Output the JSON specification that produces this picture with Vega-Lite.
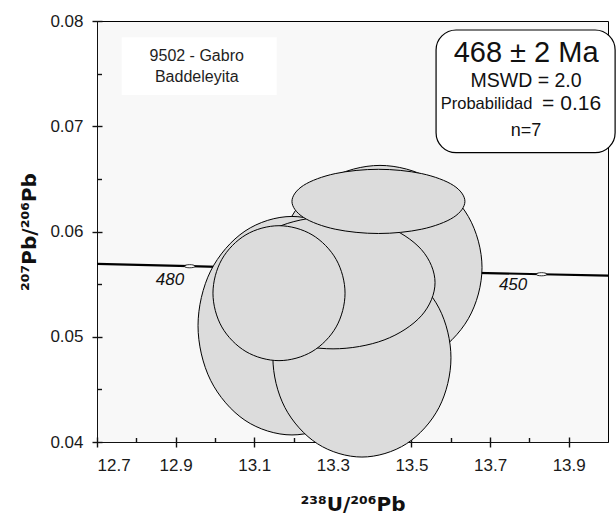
{
  "$schema": "https://vega.github.io/schema/vega-lite/v6.json",
  "width": 511,
  "height": 421,
  "autosize": {"type": "none"},
  "padding": {"left": 97, "top": 21, "right": 8, "bottom": 73},
  "background": "white",
  "config": {
    "view": {"stroke": "black", "strokeWidth": 1, "fill": "#f8f8f8"},
    "font": "Liberation Sans"
  },
  "resolve": {"axis": {"x": "independent", "y": "independent"}},
  "datasets": {
    "ellipses": [
      {"id":1,"k":0,"x":13.57,"y":0.0556},{"id":1,"k":1,"x":13.55,"y":0.05835},{"id":1,"k":2,"x":13.495,"y":0.06036},{"id":1,"k":3,"x":13.42,"y":0.0611},{"id":1,"k":4,"x":13.345,"y":0.06036},{"id":1,"k":5,"x":13.29,"y":0.05835},{"id":1,"k":6,"x":13.27,"y":0.0556},{"id":1,"k":7,"x":13.29,"y":0.05285},{"id":1,"k":8,"x":13.345,"y":0.05084},{"id":1,"k":9,"x":13.42,"y":0.0501},{"id":1,"k":10,"x":13.495,"y":0.05084},{"id":1,"k":11,"x":13.55,"y":0.05285},
      {"id":2,"k":0,"x":13.6795,"y":0.05657},{"id":2,"k":1,"x":13.6447,"y":0.061425},{"id":2,"k":2,"x":13.5498,"y":0.064979},{"id":2,"k":3,"x":13.42,"y":0.06628},{"id":2,"k":4,"x":13.2902,"y":0.064979},{"id":2,"k":5,"x":13.1953,"y":0.061425},{"id":2,"k":6,"x":13.1605,"y":0.05657},{"id":2,"k":7,"x":13.1953,"y":0.051715},{"id":2,"k":8,"x":13.2902,"y":0.048161},{"id":2,"k":9,"x":13.42,"y":0.04686},{"id":2,"k":10,"x":13.5498,"y":0.048161},{"id":2,"k":11,"x":13.6447,"y":0.051715},
      {"id":3,"k":0,"x":13.435,"y":0.05105},{"id":3,"k":1,"x":13.403,"y":0.05624},{"id":3,"k":2,"x":13.3155,"y":0.060039},{"id":3,"k":3,"x":13.196,"y":0.06143},{"id":3,"k":4,"x":13.0765,"y":0.060039},{"id":3,"k":5,"x":12.989,"y":0.05624},{"id":3,"k":6,"x":12.957,"y":0.05105},{"id":3,"k":7,"x":12.989,"y":0.04586},{"id":3,"k":8,"x":13.0765,"y":0.042061},{"id":3,"k":9,"x":13.196,"y":0.04067},{"id":3,"k":10,"x":13.3155,"y":0.042061},{"id":3,"k":11,"x":13.403,"y":0.04586},
      {"id":4,"k":0,"x":13.6005,"y":0.048},{"id":4,"k":1,"x":13.5702,"y":0.052715},{"id":4,"k":2,"x":13.4873,"y":0.056166},{"id":4,"k":3,"x":13.374,"y":0.05743},{"id":4,"k":4,"x":13.2608,"y":0.056166},{"id":4,"k":5,"x":13.1779,"y":0.052715},{"id":4,"k":6,"x":13.1475,"y":0.048},{"id":4,"k":7,"x":13.1779,"y":0.043285},{"id":4,"k":8,"x":13.2608,"y":0.039834},{"id":4,"k":9,"x":13.374,"y":0.03857},{"id":4,"k":10,"x":13.4873,"y":0.039834},{"id":4,"k":11,"x":13.5702,"y":0.043285},
      {"id":5,"k":0,"x":13.56,"y":0.05514},{"id":5,"k":1,"x":13.5252,"y":0.058285},{"id":5,"k":2,"x":13.4303,"y":0.060587},{"id":5,"k":3,"x":13.3005,"y":0.06143},{"id":5,"k":4,"x":13.1708,"y":0.060587},{"id":5,"k":5,"x":13.0758,"y":0.058285},{"id":5,"k":6,"x":13.041,"y":0.05514},{"id":5,"k":7,"x":13.0758,"y":0.051995},{"id":5,"k":8,"x":13.1708,"y":0.049693},{"id":5,"k":9,"x":13.3005,"y":0.04885},{"id":5,"k":10,"x":13.4303,"y":0.049693},{"id":5,"k":11,"x":13.5252,"y":0.051995},
      {"id":6,"k":0,"x":13.636,"y":0.06286},{"id":6,"k":1,"x":13.6065,"y":0.064385},{"id":6,"k":2,"x":13.526,"y":0.065501},{"id":6,"k":3,"x":13.416,"y":0.06591},{"id":6,"k":4,"x":13.306,"y":0.065501},{"id":6,"k":5,"x":13.2255,"y":0.064385},{"id":6,"k":6,"x":13.196,"y":0.06286},{"id":6,"k":7,"x":13.2255,"y":0.061335},{"id":6,"k":8,"x":13.306,"y":0.060219},{"id":6,"k":9,"x":13.416,"y":0.05981},{"id":6,"k":10,"x":13.526,"y":0.060219},{"id":6,"k":11,"x":13.6065,"y":0.061335},
      {"id":7,"k":0,"x":13.331,"y":0.05414},{"id":7,"k":1,"x":13.3085,"y":0.057345},{"id":7,"k":2,"x":13.247,"y":0.059691},{"id":7,"k":3,"x":13.163,"y":0.06055},{"id":7,"k":4,"x":13.079,"y":0.059691},{"id":7,"k":5,"x":13.0175,"y":0.057345},{"id":7,"k":6,"x":12.995,"y":0.05414},{"id":7,"k":7,"x":13.0175,"y":0.050935},{"id":7,"k":8,"x":13.079,"y":0.048589},{"id":7,"k":9,"x":13.163,"y":0.04773},{"id":7,"k":10,"x":13.247,"y":0.048589},{"id":7,"k":11,"x":13.3085,"y":0.050935}
    ],
    "concordia": [
      {"age":440,"x":14.157,"y":0.055688},
      {"age":450,"x":13.831,"y":0.055939},
      {"age":460,"x":13.52,"y":0.05619},
      {"age":470,"x":13.222,"y":0.056446},
      {"age":480,"x":12.936,"y":0.056701},
      {"age":490,"x":12.662,"y":0.056959}
    ],
    "agemarks": [
      {"age":480,"x":12.936,"y":0.056701,"label":"480","lx":12.8858,"ly":0.055392},
      {"age":450,"x":13.831,"y":0.055939,"label":"450","lx":13.7585,"ly":0.054917}
    ],
    "minorticks": [
      {"x":12.8,"y":0.045},{"x":13.0,"y":0.055},{"x":13.2,"y":0.065},{"x":13.4,"y":0.075},{"x":13.6,"y":0.045},{"x":13.8,"y":0.045}
    ]
  },
  "encoding": {
    "x": {"field": "x", "type": "quantitative", "scale": {"domain": [12.7, 14.0], "nice": false, "zero": false}, "axis": null},
    "y": {"field": "y", "type": "quantitative", "scale": {"domain": [0.04, 0.08], "nice": false, "zero": false}, "axis": null}
  },
  "layer": [
    {
      "data": {"name": "minorticks"},
      "mark": {"type": "point", "opacity": 0},
      "encoding": {
        "x": {
          "field": "x", "type": "quantitative",
          "scale": {"domain": [12.7, 14.0], "nice": false, "zero": false},
          "axis": {"orient": "bottom", "title": null, "values": [12.8, 13.0, 13.2, 13.4, 13.6, 13.8], "labels": false, "ticks": false, "domain": false,
                   "grid": true, "gridColor": "#111", "gridOpacity": 1, "gridWidth": 1.4, "gridDash": [0, 416.5, 4.5, 3000]}
        },
        "y": {
          "field": "y", "type": "quantitative",
          "scale": {"domain": [0.04, 0.08], "nice": false, "zero": false},
          "axis": {"orient": "left", "title": null, "values": [0.045, 0.055, 0.065, 0.075], "labels": false, "ticks": false, "domain": false,
                   "grid": true, "gridColor": "#111", "gridOpacity": 1, "gridWidth": 1.4, "gridDash": [4.5, 3000]}
        }
      }
    },
    {
      "data": {"name": "minorticks"},
      "mark": {"type": "point", "opacity": 0},
      "encoding": {
        "x": {
          "field": "x", "type": "quantitative",
          "scale": {"domain": [12.7, 14.0], "nice": false, "zero": false},
          "axis": {
            "orient": "bottom",
            "title": "²³⁸U/²⁰⁶Pb",
            "values": [12.7, 12.9, 13.1, 13.3, 13.5, 13.7, 13.9],
            "format": ".1f",
            "labelFont": "Liberation Sans", "labelFontSize": 17, "labelColor": "#1a1a1a", "labelPadding": 10,
            "ticks": true, "tickSize": 5, "tickColor": "#111", "tickWidth": 1.4,
            "domainColor": "#111", "domainWidth": 1,
            "grid": true, "gridColor": "#111", "gridOpacity": 1, "gridWidth": 1.4, "gridDash": [0, 416, 5, 3000],
            "titleFont": "DejaVu Sans", "titleFontSize": 20, "titleFontWeight": "bold", "titleColor": "#111", "titlePadding": 21
          }
        },
        "y": {
          "field": "y", "type": "quantitative",
          "scale": {"domain": [0.04, 0.08], "nice": false, "zero": false},
          "axis": {
            "orient": "left",
            "title": "²⁰⁷Pb/²⁰⁶Pb",
            "values": [0.04, 0.05, 0.06, 0.07, 0.08],
            "format": ".2f",
            "labelFont": "Liberation Sans", "labelFontSize": 17, "labelColor": "#1a1a1a", "labelPadding": 9,
            "ticks": true, "tickSize": 5, "tickColor": "#111", "tickWidth": 1.4,
            "domainColor": "#111", "domainWidth": 1,
            "grid": true, "gridColor": "#111", "gridOpacity": 1, "gridWidth": 1.4, "gridDash": [5, 3000],
            "titleFont": "DejaVu Sans", "titleFontSize": 20, "titleFontWeight": "bold", "titleColor": "#111", "titlePadding": 10
          }
        }
      }
    },
    {
      "data": {"values": [{"x": 12.7628, "x2": 13.1572, "y": 0.078451, "y2": 0.072969}]},
      "mark": {"type": "rect", "fill": "white", "stroke": null},
      "encoding": {"x2": {"field": "x2"}, "y2": {"field": "y2"}}
    },
    {
      "data": {"name": "concordia"},
      "mark": {"type": "line", "stroke": "black", "strokeWidth": 2.2, "clip": true},
      "encoding": {"order": {"field": "age", "type": "quantitative"}}
    },
    {
      "data": {"name": "agemarks"},
      "mark": {"type": "point", "shape": "M-1,0 C-1,-0.4 1,-0.4 1,0 C1,0.4 -1,0.4 -1,0 Z", "size": 110, "filled": true, "fill": "white", "stroke": "black", "strokeWidth": 0.8, "opacity": 1}
    },
    {
      "data": {"name": "ellipses"},
      "mark": {"type": "line", "interpolate": "cardinal-closed", "fill": "#dcdcdc", "stroke": "black", "strokeWidth": 1},
      "encoding": {
        "detail": {"field": "id", "type": "nominal"},
        "order": {"field": "k", "type": "quantitative"}
      }
    },
    {
      "data": {"name": "agemarks"},
      "mark": {"type": "text", "font": "Liberation Sans", "fontSize": 17, "fontStyle": "italic", "color": "#111", "align": "center", "baseline": "middle"},
      "encoding": {
        "x": {"field": "lx", "type": "quantitative", "axis": null},
        "y": {"field": "ly", "type": "quantitative", "axis": null},
        "text": {"field": "label"}
      }
    },
    {
      "data": {"values": [{"t": "9502 - Gabro", "x": 12.9537, "y": 0.076675}, {"t": "Baddeleyita", "x": 12.9537, "y": 0.074679}]},
      "mark": {"type": "text", "font": "Liberation Sans", "fontSize": 16, "color": "#1e1e1e", "align": "center", "baseline": "middle"},
      "encoding": {"text": {"field": "t"}}
    },
    {
      "data": {"values": [{"x": 13.5626, "x2": 14.0181, "y": 0.079145, "y2": 0.067487}]},
      "mark": {"type": "rect", "fill": "white", "stroke": "black", "strokeWidth": 1.2, "cornerRadius": 20},
      "encoding": {"x2": {"field": "x2"}, "y2": {"field": "y2"}}
    },
    {
      "data": {"values": [{"t": "468 ± 2 Ma", "x": 13.7916, "y": 0.07696}]},
      "mark": {"type": "text", "font": "Liberation Sans", "fontSize": 29, "color": "#111", "align": "center", "baseline": "middle"},
      "encoding": {"text": {"field": "t"}}
    },
    {
      "data": {"values": [{"t": "MSWD = 2.0", "x": 13.7916, "y": 0.074252}]},
      "mark": {"type": "text", "font": "Liberation Sans", "fontSize": 19.5, "color": "#111", "align": "center", "baseline": "middle"},
      "encoding": {"text": {"field": "t"}}
    },
    {
      "data": {"values": [{"t": "= 0.16", "x": 13.9074, "y": 0.072114}]},
      "mark": {"type": "text", "font": "Liberation Sans", "fontSize": 21, "color": "#111", "align": "center", "baseline": "middle"},
      "encoding": {"text": {"field": "t"}}
    },
    {
      "data": {"values": [{"t": "Probabilidad", "x": 13.6911, "y": 0.072114}]},
      "mark": {"type": "text", "font": "Liberation Sans", "fontSize": 16.5, "color": "#111", "align": "center", "baseline": "middle"},
      "encoding": {"text": {"field": "t"}}
    },
    {
      "data": {"values": [{"t": "n=7", "x": 13.7916, "y": 0.069549}]},
      "mark": {"type": "text", "font": "Liberation Sans", "fontSize": 18, "color": "#111", "align": "center", "baseline": "middle"},
      "encoding": {"text": {"field": "t"}}
    }
  ]
}
